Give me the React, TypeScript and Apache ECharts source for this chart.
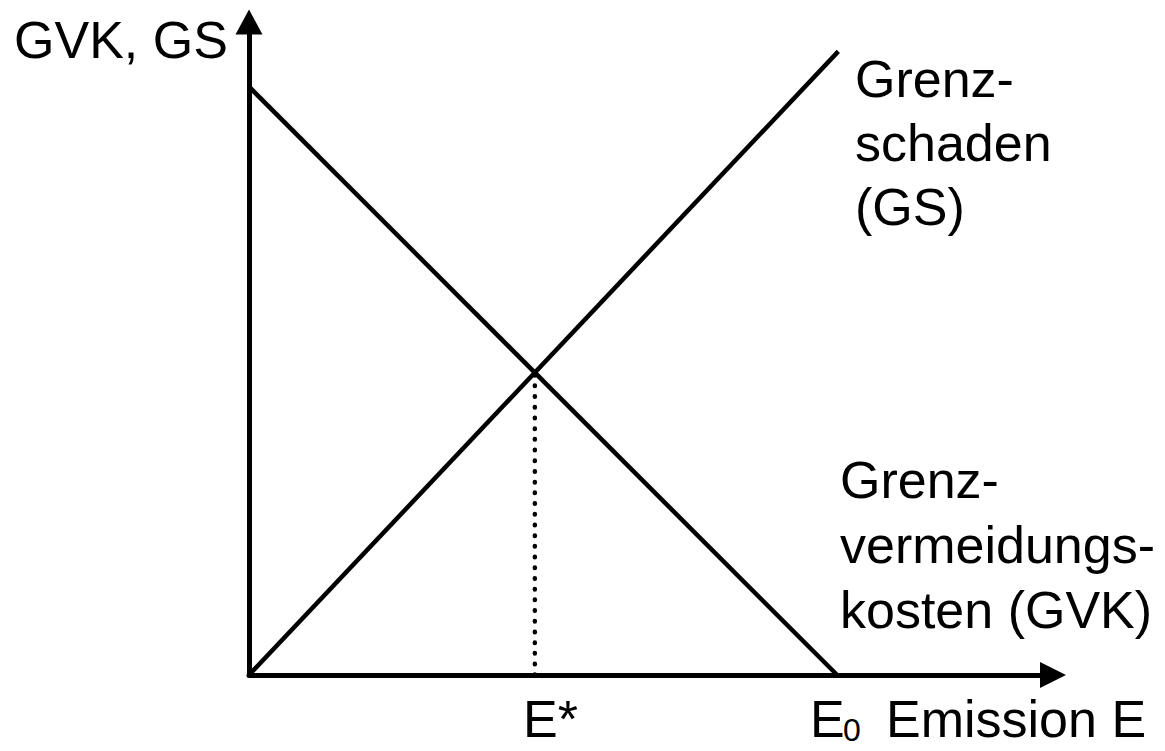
import React, { useEffect, useRef } from "react";
import * as echarts from "echarts";

// Data (abstract units)
const gvkPoints: [number, number][] = [[0, 10], [10, 0]]; // Grenzvermeidungskosten
const gsPoints: [number, number][] = [[0, 0], [10.02, 10.6]]; // Grenzschaden
const optimumLine: [number, number][] = [[4.86, 0], [4.86, 5.14]]; // E*
const X_MAX = 13.67;
const Y_MAX = 11.1;

const FONT = "'Liberation Sans', Arial, Helvetica, sans-serif";

export default function App() {
  const ref = useRef<HTMLDivElement>(null);
  useEffect(() => {
    document.body.style.margin = "0";
    if (!ref.current) return;
    const chart = echarts.init(ref.current, undefined, { renderer: "svg" });
    const txt = (text: string, x: number, y: number, size = 52, extra: any = {}) => ({
      type: "text",
      x,
      y,
      style: {
        text,
        fontFamily: FONT,
        fontSize: size,
        fill: "#000",
        verticalAlign: "middle",
        align: "left",
        ...extra,
      },
    });
    chart.setOption({
      animation: false,
      backgroundColor: "#fff",
      grid: { left: 249, top: 22, width: 804, height: 653 },
      xAxis: {
        type: "value",
        min: 0,
        max: X_MAX,
        axisLine: {
          show: true,
          onZero: false,
          symbol: ["none", "triangle"],
          symbolSize: [26, 26],
          lineStyle: { color: "#000", width: 5 },
        },
        axisTick: { show: false },
        axisLabel: { show: false },
        splitLine: { show: false },
      },
      yAxis: {
        type: "value",
        min: 0,
        max: Y_MAX,
        axisLine: {
          show: true,
          onZero: false,
          symbol: ["none", "triangle"],
          symbolSize: [27, 25],
          lineStyle: { color: "#000", width: 5 },
        },
        axisTick: { show: false },
        axisLabel: { show: false },
        splitLine: { show: false },
      },
      series: [
        {
          name: "GVK",
          type: "line",
          data: gvkPoints,
          showSymbol: false,
          lineStyle: { color: "#000", width: 4.5 },
          silent: true,
        },
        {
          name: "GS",
          type: "line",
          data: gsPoints,
          showSymbol: false,
          lineStyle: { color: "#000", width: 4.5 },
          silent: true,
        },
        {
          name: "E*",
          type: "line",
          data: optimumLine,
          showSymbol: false,
          lineStyle: { color: "#000", width: 4.5, type: [0.5, 10.2], cap: "round" },
          silent: true,
        },
      ],
      graphic: [
        txt("GVK, GS", 14, 40),
        txt("Grenz-\nschaden\n(GS)", 855, 143, 52, { lineHeight: 64 }),
        txt("Grenz-\nvermeidungs-\nkosten (GVK)", 840, 545, 52, { lineHeight: 65 }),
        txt("E*", 523, 719),
        txt("E", 810, 719),
        txt("0", 843, 730, 32),
        txt("Emission E", 886, 719),
      ],
    });
    return () => chart.dispose();
  }, []);
  return <div ref={ref} style={{ width: 1165, height: 751 }} />;
}
